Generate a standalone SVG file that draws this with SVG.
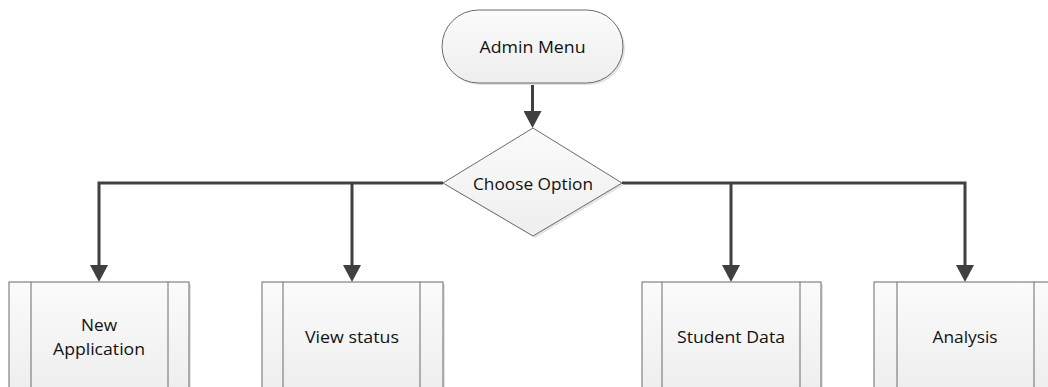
<svg xmlns="http://www.w3.org/2000/svg" width="1048" height="387" viewBox="0 0 1048 387">
  <style>
    .shape { fill: url(#fillGrad); stroke: #6b6b6b; stroke-width: 1; }
    .inner { stroke: #6b6b6b; stroke-width: 1; fill: none; }
    .shadow { fill: #e3e3e3; }
    .label { font-family: "Open Sans", "Liberation Sans", sans-serif; font-size: 16px; fill: #111111; text-anchor: middle; }
    .conn { fill: none; stroke: #404040; stroke-width: 3; }
  </style>
  <defs>
    <linearGradient id="fillGrad" x1="0" y1="0" x2="0" y2="1">
      <stop offset="0" stop-color="#fbfbfb"/>
      <stop offset="1" stop-color="#eeeeee"/>
    </linearGradient>
    <marker id="arrow" viewBox="0 0 17 18" refX="7" refY="9" markerWidth="17" markerHeight="18" markerUnits="userSpaceOnUse" orient="auto">
      <path d="M0,0 L17,9 L0,18 z" fill="#404040"/>
    </marker>
  </defs>

  <rect width="1048" height="387" fill="#ffffff"/>

  <!-- connectors -->
  <g id="connectors">
    <path class="conn" d="M532.5,83 V118" marker-end="url(#arrow)"/>
    <path class="conn" d="M443,183 H99 V272" marker-end="url(#arrow)"/>
    <path class="conn" d="M352,183 V272" marker-end="url(#arrow)"/>
    <path class="conn" d="M622,183 H965 V272" marker-end="url(#arrow)"/>
    <path class="conn" d="M731,183 V272" marker-end="url(#arrow)"/>
  </g>

  <!-- start terminal -->
  <g id="admin-menu">
    <rect class="shadow" x="444" y="12" width="181" height="73" rx="36.5"/>
    <rect class="shape" x="442" y="10" width="181" height="73" rx="36.5"/>
    <text class="label" x="532.5" y="53" textLength="106" lengthAdjust="spacingAndGlyphs">Admin Menu</text>
  </g>

  <!-- decision -->
  <g id="choose-option">
    <polygon class="shadow" points="535,130 624,185 535,238 445,185"/>
    <polygon class="shape" points="533,128 622,183 533,236 443,183"/>
    <text class="label" x="533" y="190" textLength="120" lengthAdjust="spacingAndGlyphs">Choose Option</text>
  </g>

  <!-- predefined processes -->
  <g id="new-application">
    <rect class="shadow" x="11" y="284" width="180" height="110"/>
    <rect class="shape" x="9" y="282" width="180" height="110"/>
    <line class="inner" x1="31" y1="282" x2="31" y2="392"/>
    <line class="inner" x1="168" y1="282" x2="168" y2="392"/>
    <text class="label" x="99" y="331" textLength="36" lengthAdjust="spacingAndGlyphs">New</text>
    <text class="label" x="99" y="355" textLength="92" lengthAdjust="spacingAndGlyphs">Application</text>
  </g>

  <g id="view-status">
    <rect class="shadow" x="264" y="284" width="181" height="110"/>
    <rect class="shape" x="262" y="282" width="181" height="110"/>
    <line class="inner" x1="283" y1="282" x2="283" y2="392"/>
    <line class="inner" x1="420" y1="282" x2="420" y2="392"/>
    <text class="label" x="352" y="343" textLength="94" lengthAdjust="spacingAndGlyphs">View status</text>
  </g>

  <g id="student-data">
    <rect class="shadow" x="644" y="284" width="179" height="110"/>
    <rect class="shape" x="642" y="282" width="179" height="110"/>
    <line class="inner" x1="662" y1="282" x2="662" y2="392"/>
    <line class="inner" x1="800" y1="282" x2="800" y2="392"/>
    <text class="label" x="731" y="343" textLength="108" lengthAdjust="spacingAndGlyphs">Student Data</text>
  </g>

  <g id="analysis">
    <rect class="shadow" x="876" y="284" width="180" height="110"/>
    <rect class="shape" x="874" y="282" width="180" height="110"/>
    <line class="inner" x1="897" y1="282" x2="897" y2="392"/>
    <line class="inner" x1="1034" y1="282" x2="1034" y2="392"/>
    <text class="label" x="965" y="343" textLength="65" lengthAdjust="spacingAndGlyphs">Analysis</text>
  </g>
</svg>
